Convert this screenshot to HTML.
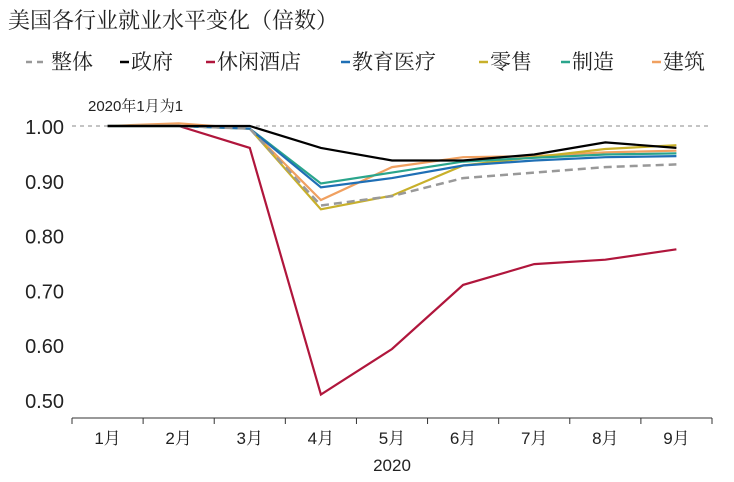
<!DOCTYPE html>
<html><head><meta charset="utf-8"><style>
body{margin:0;background:#fff;width:734px;height:477px;overflow:hidden;font-family:"Liberation Sans","Noto Serif CJK SC",serif}
text{font-family:"Liberation Sans","Noto Serif CJK SC",serif}
</style></head><body>
<svg id="chart" width="734" height="477">
<text x="8" y="28" font-size="22" fill="#222">美国各行业就业水平变化（倍数）</text>
<g id="legend"></g>
<g id="plot"></g>
</svg>
<script>
const categories=["1月","2月","3月","4月","5月","6月","7月","8月","9月"];
const yTicks=[0.5,0.6,0.7,0.8,0.9,1.0];
const seriesNames=["整体","政府","休闲酒店","教育医疗","零售","制造","建筑"];
const seriesColors=["#999999","#000000","#b0163c","#1f6fb5","#c8b02a","#2aa58c","#f0a060"];
const overall=[1,1,0.995,0.855,0.872,0.905,0.915,0.925,0.93];
const government=[1,1,1,0.96,0.937,0.937,0.948,0.97,0.96];
const leisure=[1,1,0.96,0.51,0.593,0.71,0.748,0.756,0.775];
const eduHealth=[1,1,0.995,0.888,0.905,0.928,0.937,0.943,0.945];
const retail=[1,1,0.995,0.848,0.873,0.928,0.943,0.958,0.965];
const manufacturing=[1,1,0.995,0.895,0.915,0.935,0.942,0.948,0.95];
const construction=[1,1.005,0.995,0.865,0.925,0.943,0.945,0.952,0.955];
const series=[overall,government,leisure,eduHealth,retail,manufacturing,construction];
const NS="http://www.w3.org/2000/svg";
const X0=72,X1=712,step=(X1-X0)/categories.length;
const xs=i=>X0+step*(i+0.5);
const ys=v=>126+(1-v)*548;
const plot=document.getElementById('plot'),legend=document.getElementById('legend');
function mk(tag,attrs,parent){const e=document.createElementNS(NS,tag);for(const k in attrs)e.setAttribute(k,attrs[k]);parent.appendChild(e);return e;}
let a=mk('line',{x1:X0,y1:418,x2:X1,y2:418,stroke:'#333','stroke-width':1},plot);


yTicks.forEach(v=>{
 const t=mk('text',{x:X0-8,y:ys(v)+8,'font-size':20,'text-anchor':'end',fill:'#222'},plot);t.textContent=v.toFixed(2);
 
 
});
for(let i=0;i<=categories.length;i++){const tk=mk('line',{x1:X0+step*i,x2:X0+step*i,y1:418,y2:424,stroke:'#333'},plot);
 
 }
categories.forEach((c,i)=>{const t=mk('text',{x:xs(i),y:444,'font-size':17,'text-anchor':'middle',fill:'#222'},plot);t.textContent=c;
 
 });
let t=mk('text',{x:392,y:471,'font-size':17,'text-anchor':'middle',fill:'#222'},plot);t.textContent='2020';


t=mk('text',{x:88,y:111,'font-size':15,fill:'#222'},plot);t.textContent='2020年1月为1';


let r=mk('line',{x1:X0,x2:X1,y1:ys(1),y2:ys(1),stroke:'#888','stroke-dasharray':'4,4','stroke-width':1},plot);


const order=[2,6,4,5,3,0,1];
order.forEach(s=>{
 const d=series[s].map((v,i)=>(i?'L':'M')+xs(i).toFixed(1)+','+ys(v).toFixed(1)).join('');
 const p=mk('path',{d:d,fill:'none',stroke:seriesColors[s],'stroke-width':s==0?2.5:2.2},plot);
 if(s==0)p.setAttribute('stroke-dasharray','8,5');
 
 
});
const lx=[26,120,206,341,479,561,652];
seriesNames.forEach((n,i)=>{
 const g=mk('g',{},legend);
 
 
 const l=mk('line',{x1:lx[i],x2:lx[i]+(i==0?22:9),y1:62,y2:62,stroke:seriesColors[i],'stroke-width':2.5},g);
 if(i==0)l.setAttribute('stroke-dasharray','6,5');
 const tt=mk('text',{x:lx[i]+(i==0?25:11),y:69,'font-size':21,fill:'#222'},g);tt.textContent=n;
});
</script>
</body></html>
